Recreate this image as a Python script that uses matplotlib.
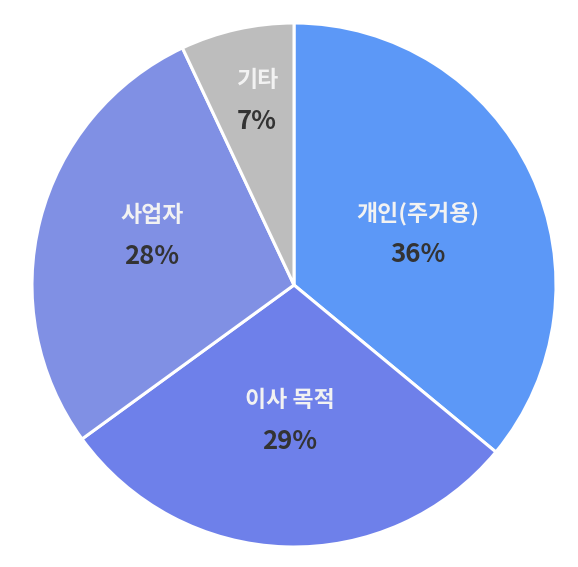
import numpy as np
import matplotlib.pyplot as plt

plt.rcParams['font.family'] = ['Noto Sans CJK KR', 'DejaVu Sans']

# 데이터
categories = ['개인(주거용)', '이사 목적', '사업자', '기타']
shares = [36, 29, 28, 7]
colors = ['#5C98F7', '#6E80EA', '#8090E4', '#BDBDBD']
# 라벨 위치 (반지름, 각도 보정)
label_radius = [0.512, 0.52, 0.573, 0.716]
label_shift = [-2.8, 0.0, -4.6, -1.2]

fig = plt.figure(figsize=(5.78, 5.67), dpi=100)
ax = fig.add_axes([32 / 578, 20 / 567, 524 / 578, 524 / 567])

wedges, _ = ax.pie(shares, colors=colors, startangle=90, counterclock=False,
                   radius=1.0, wedgeprops=dict(edgecolor='white', linewidth=2.2))

for w, cat, val, r, s in zip(wedges, categories, shares, label_radius, label_shift):
    mid = np.deg2rad((w.theta1 + w.theta2) / 2 + s)
    x, y = r * np.cos(mid), r * np.sin(mid)
    ax.text(x, y + 0.077, cat, ha='center', va='center', fontsize=16.5,
            fontweight='bold', color='#F2F2F2')
    ax.text(x, y - 0.077, f'{val}%', ha='center', va='center', fontsize=18.5,
            fontweight='bold', color='#333333')

ax.set_xlim(-1, 1)
ax.set_ylim(-1, 1)
ax.set_aspect('equal')
ax.axis('off')

fig.savefig('out.png', dpi=100, facecolor='white')
